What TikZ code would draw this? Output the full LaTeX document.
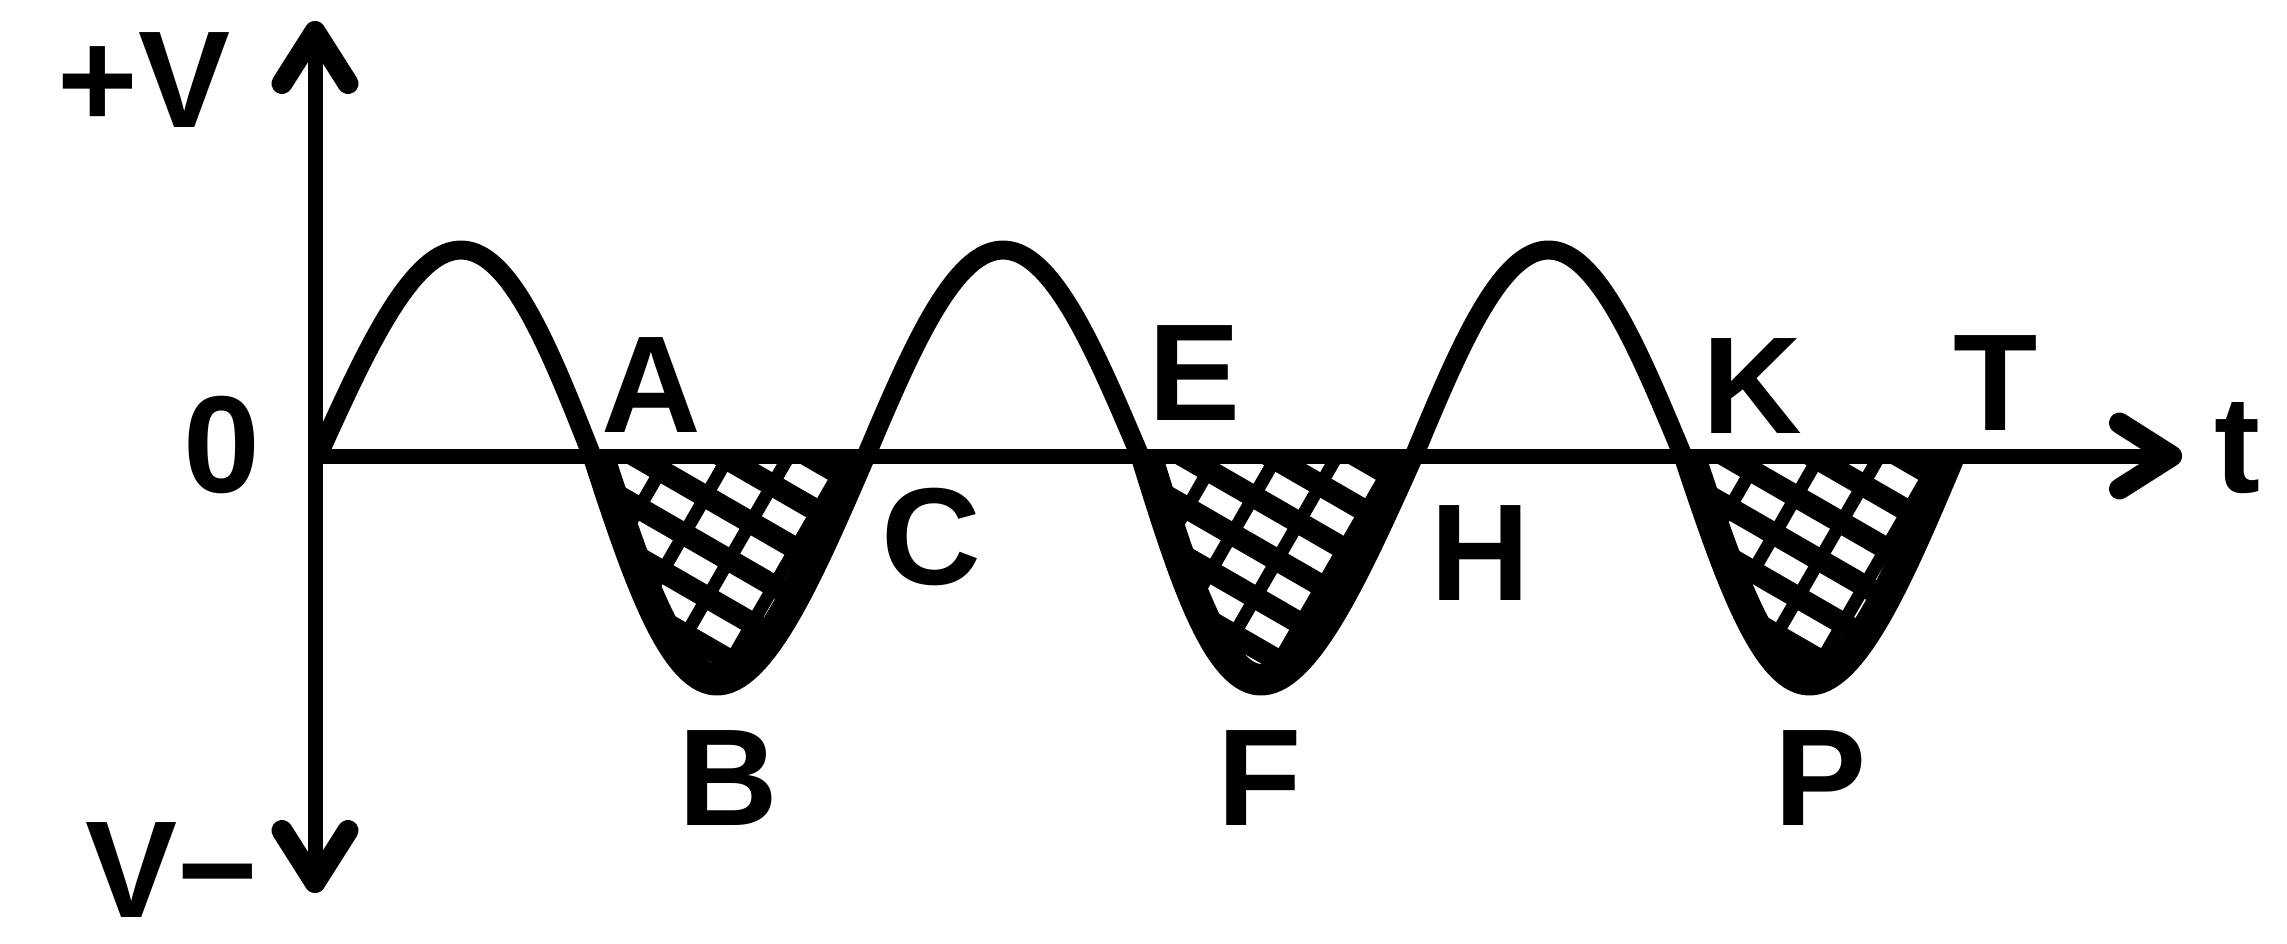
\documentclass[tikz,border=0pt]{standalone}
\usepackage{fontspec}
\setmainfont{Liberation Sans}
\usetikzlibrary{arrows.meta}
\newcommand\troughfill[3]{%
  \begin{scope}
    \clip plot[domain=0:180,samples=60] ({#1+#2*(\x/180)-#3*sin(\x)},{456+230*sin(\x)}) -- cycle;
    \foreach \k in {-10,...,10}
      \draw[hatchA] ({#1+#2/2-300*0.866},{560+\k*50-300*0.5}) -- ({#1+#2/2+300*0.866},{560+\k*50+300*0.5});
    \foreach \k in {-10,...,10}
      \draw[hatchB] ({#1+#2/2+\k*60-300*0.5},{560+300*0.866}) -- ({#1+#2/2+\k*60+300*0.5},{560-300*0.866});
    \draw[innerband] plot[domain=0:180,samples=60] ({#1+#2*(\x/180)-#3*sin(\x)},{456+230*sin(\x)});
  \end{scope}}
\begin{document}
\begin{tikzpicture}[x=1pt,y=-1pt,
  lbl/.style={font=\fontsize{138}{140}\selectfont\bfseries, inner sep=0pt, anchor=base},
  axisline/.style={line width=15pt},
  wave/.style={line width=19pt, line join=round},
  hatchA/.style={line width=22pt},
  hatchB/.style={line width=13pt},
  innerband/.style={line width=44pt},
  barb/.tip={Straight Barb[length=52pt,width=66pt,line width=21pt,round]}
]
\useasboundingbox (0,0) rectangle (2287,944);
% troughs filled
\troughfill{592}{274}{12}
\troughfill{1140}{274}{16}
\troughfill{1683}{273}{10}
% axes
\coordinate (O) at (315,456);
\coordinate (Ytop) at (315,21);
\coordinate (Ybot) at (315,893);
\coordinate (Xend) at (2182,456);
\draw[axisline,barb-barb] (Ybot) -- (Ytop);
\draw[axisline,-barb] (O) -- (Xend);
% wave
\draw[wave]
  plot[domain=0:180,samples=60] ({318+274*(\x/180)+6*sin(\x)},{456-206*sin(\x)})
  -- plot[domain=0:180,samples=60] ({592+274*(\x/180)-12*sin(\x)},{456+230*sin(\x)})
  -- plot[domain=0:180,samples=60] ({866+274*(\x/180)},{456-206*sin(\x)})
  -- plot[domain=0:180,samples=60] ({1140+274*(\x/180)-16*sin(\x)},{456+230*sin(\x)})
  -- plot[domain=0:180,samples=60] ({1414+269*(\x/180)},{456-206*sin(\x)})
  -- plot[domain=0:180,samples=60] ({1683+273*(\x/180)-10*sin(\x)},{456+230*sin(\x)});
% labels
\node[lbl] (pv) at (144,128) {+V};
\node[lbl] (mv) at (172,917) {V−};
\node[lbl] (zero) at (222,492) {0};
\node[lbl] (A) at (651,432) {A};
\node[lbl] (E) at (1195,420) {E};
\node[lbl] (K) at (1752,433) {K};
\node[lbl] (T) at (1996,430) {T};
\node[lbl] (C) at (931,584) {C};
\node[lbl] (H) at (1480,600) {H};
\node[lbl] (B) at (728,825) {B};
\node[lbl] (F) at (1260,825) {F};
\node[lbl] (P) at (1821,825) {P};
\node[lbl] (t) at (2237,492) {t};
\end{tikzpicture}
\end{document}
